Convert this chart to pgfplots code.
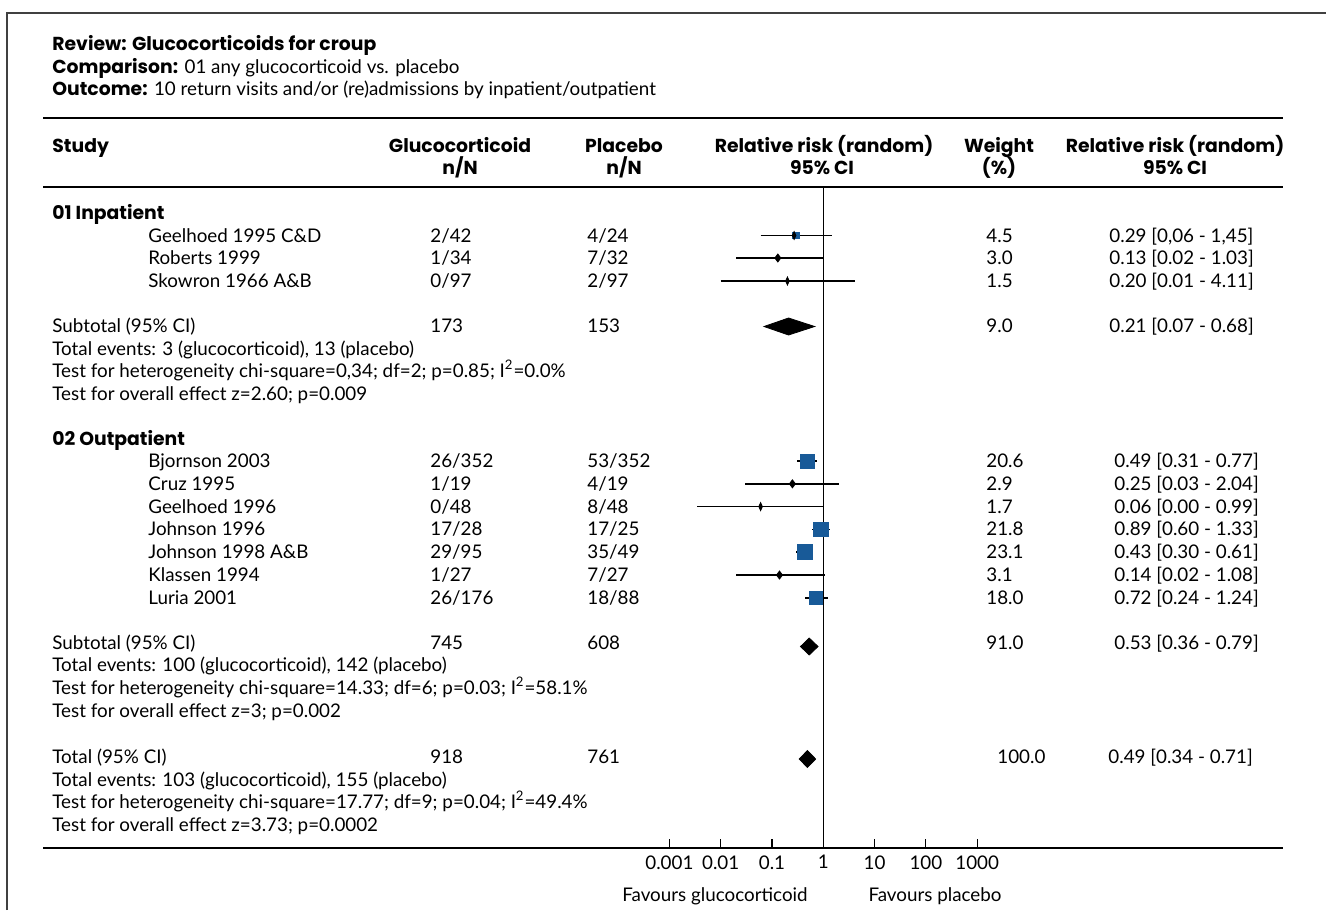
\documentclass[border=0pt]{standalone}
\usepackage{pgfplots}
\pgfplotsset{compat=1.18}
\usepackage{fontspec}
\setmainfont{Lato}[BoldFont={Poppins Bold}, BoldFeatures={Scale=1.0}]
\definecolor{sqblue}{RGB}{24,90,152}
\newcommand\tx[3]{\node[anchor=base west,inner sep=0pt,yshift=-1pt] at (#1,#2) {#3};}
\newcommand\tc[3]{\node[anchor=base,inner sep=0pt,yshift=-1pt] at (#1,#2) {#3};}
\begin{document}
\fontsize{9.4pt}{11pt}\selectfont
\begin{tikzpicture}[x=0.5pt,y=-0.5pt]
\path[use as bounding box] (0,0) rectangle (1326,910);
\draw[line width=0.8pt, black!75] (7,910) -- (7,13) -- (1326,13);
% titles
\tx{52}{48}{\bfseries Review: Glucocorticoids for croup}
\tx{52}{71}{\textbf{Comparison:} 01 any glucocorticoid vs. placebo}
\tx{52}{93.5}{\textbf{Outcome:} 10 return visits and/or (re)admissions by inpatient/outpatient}
% rules
\draw[line width=1.25pt] (43,118) -- (1283,118);
\draw[line width=1.25pt] (43,187) -- (1283,187);
\draw[line width=1.25pt] (43,848) -- (1283,848);
% header
\tx{52}{150}{\bfseries Study}
\tc{460}{150}{\bfseries Glucocorticoid}\tc{460}{172}{\bfseries n/N}
\tc{624}{150}{\bfseries Placebo}\tc{624}{172}{\bfseries n/N}
\tc{824}{150}{\bfseries Relative risk (random)}\tc{822}{172}{\bfseries 95\% CI}
\tc{999}{150}{\bfseries Weight}\tc{999}{172}{\bfseries (\%)}
\tc{1175}{150}{\bfseries Relative risk (random)}\tc{1175}{172}{\bfseries 95\% CI}
% group 1
\tx{52}{217}{\bfseries 01 Inpatient}
\tx{148}{240}{Geelhoed 1995 C\&D}\tx{430}{240}{2/42}\tx{587}{240}{4/24}\tx{986}{240}{4.5}\tx{1109}{240}{0.29 [0,06 - 1,45]}
\tx{148}{262.5}{Roberts 1999}\tx{430}{262.5}{1/34}\tx{587}{262.5}{7/32}\tx{986}{262.5}{3.0}\tx{1109}{262.5}{0.13 [0.02 - 1.03]}
\tx{148}{285.5}{Skowron 1966 A\&B}\tx{430}{285.5}{0/97}\tx{587}{285.5}{2/97}\tx{986}{285.5}{1.5}\tx{1109}{285.5}{0.20 [0.01 - 4.11]}
\tx{52}{330.5}{Subtotal (95\% CI)}\tx{430}{330.5}{173}\tx{587}{330.5}{153}\tx{986}{330.5}{9.0}\tx{1109}{330.5}{0.21 [0.07 - 0.68]}
\tx{52}{353}{Total events: 3 (glucocorticoid), 13 (placebo)}
\tx{52}{375.5}{Test for heterogeneity chi-square=0,34; df=2; p=0.85; I\textsuperscript{2}=0.0\%}
\tx{52}{398}{Test for overall effect z=2.60; p=0.009}
% group 2
\tx{52}{443}{\bfseries 02 Outpatient}
\tx{148}{465.5}{Bjornson 2003}\tx{430}{465.5}{26/352}\tx{587}{465.5}{53/352}\tx{986}{465.5}{20.6}\tx{1114}{465.5}{0.49 [0.31 - 0.77]}
\tx{148}{488.3}{Cruz 1995}\tx{430}{488.3}{1/19}\tx{587}{488.3}{4/19}\tx{986}{488.3}{2.9}\tx{1114}{488.3}{0.25 [0.03 - 2.04]}
\tx{148}{511.1}{Geelhoed 1996}\tx{430}{511.1}{0/48}\tx{587}{511.1}{8/48}\tx{986}{511.1}{1.7}\tx{1114}{511.1}{0.06 [0.00 - 0.99]}
\tx{148}{533.9}{Johnson 1996}\tx{430}{533.9}{17/28}\tx{587}{533.9}{17/25}\tx{986}{533.9}{21.8}\tx{1114}{533.9}{0.89 [0.60 - 1.33]}
\tx{148}{556.7}{Johnson 1998 A\&B}\tx{430}{556.7}{29/95}\tx{587}{556.7}{35/49}\tx{986}{556.7}{23.1}\tx{1114}{556.7}{0.43 [0.30 - 0.61]}
\tx{148}{579.5}{Klassen 1994}\tx{430}{579.5}{1/27}\tx{587}{579.5}{7/27}\tx{986}{579.5}{3.1}\tx{1114}{579.5}{0.14 [0.02 - 1.08]}
\tx{148}{602.3}{Luria 2001}\tx{430}{602.3}{26/176}\tx{587}{602.3}{18/88}\tx{986}{602.3}{18.0}\tx{1114}{602.3}{0.72 [0.24 - 1.24]}
\tx{52}{647}{Subtotal (95\% CI)}\tx{430}{647}{745}\tx{587}{647}{608}\tx{986}{647}{91.0}\tx{1114}{647}{0.53 [0.36 - 0.79]}
\tx{52}{669.8}{Total events: 100 (glucocorticoid), 142 (placebo)}
\tx{52}{692.6}{Test for heterogeneity chi-square=14.33; df=6; p=0.03; I\textsuperscript{2}=58.1\%}
\tx{52}{715.4}{Test for overall effect z=3; p=0.002}
% total
\tx{52}{761}{Total (95\% CI)}\tx{430}{761}{918}\tx{587}{761}{761}\tx{997}{761}{100.0}\tx{1108}{761}{0.49 [0.34 - 0.71]}
\tx{52}{784}{Total events: 103 (glucocorticoid), 155 (placebo)}
\tx{52}{806.5}{Test for heterogeneity chi-square=17.77; df=9; p=0.04; I\textsuperscript{2}=49.4\%}
\tx{52}{829.3}{Test for overall effect z=3.73; p=0.0002}
\tc{715}{899}{Favours glucocorticoid}
\tc{935}{899}{Favours placebo}
\begin{axis}[at={(334.7pt,0pt)}, anchor=north west, scale only axis,
  width=153.9pt, height=424pt,
  xmode=log, log basis x=10, xmin=0.001, xmax=1000, ymin=-848, ymax=0,
  clip=false, axis y line=none, axis x line*=bottom,
  x axis line style={-, line width=1.25pt},
  xtick={0.001,0.01,0.1,1,10,100,1000},
  xticklabels={0.001,0.01,0.1,1,10,100,1000},
  xminorticks=false, minor x tick num=0,
  tick align=inside, major tick length=4.5pt,
  xtick style={line width=0.6pt, black},
  xticklabel style={inner sep=0pt, yshift=-3.5pt},
  /pgf/number format/assume math mode=true]
% reference line
\addplot[black, line width=0.5pt] coordinates {(1,-187) (1,-848)};
% squares (study weights)
\addplot[only marks, mark=square*, mark size=1.6pt, mark options={fill=sqblue, draw=sqblue}] coordinates {(0.29,-235.5)};
\addplot[only marks, mark=square*, mark size=3.5pt, mark options={fill=sqblue, draw=sqblue}] coordinates {(0.49,-461)};
\addplot[only marks, mark=square*, mark size=3.7pt, mark options={fill=sqblue, draw=sqblue}] coordinates {(0.89,-529.4)};
\addplot[only marks, mark=square*, mark size=3.75pt, mark options={fill=sqblue, draw=sqblue}] coordinates {(0.43,-552.2)};
\addplot[only marks, mark=square*, mark size=3.4pt, mark options={fill=sqblue, draw=sqblue}] coordinates {(0.72,-597.8)};
% CI lines
\addplot[black, line width=0.75pt] coordinates {(0.06,-235.5) (1.45,-235.5)};
\addplot[black, line width=0.75pt] coordinates {(0.02,-258) (1.03,-258)};
\addplot[black, line width=0.75pt] coordinates {(0.01,-281) (4.11,-281)};
\addplot[black, line width=0.75pt] coordinates {(0.31,-461) (0.77,-461)};
\addplot[black, line width=0.75pt] coordinates {(0.03,-483.8) (2.04,-483.8)};
\addplot[black, line width=0.75pt] coordinates {(0.0035,-506.6) (0.99,-506.6)};
\addplot[black, line width=0.75pt] coordinates {(0.60,-529.4) (1.33,-529.4)};
\addplot[black, line width=0.75pt] coordinates {(0.30,-552.2) (0.61,-552.2)};
\addplot[black, line width=0.75pt] coordinates {(0.02,-575) (1.08,-575)};
\addplot[black, line width=0.75pt] coordinates {(0.44,-597.8) (1.24,-597.8)};
% small study markers
\addplot[only marks, mark=diamond*, mark size=2pt, mark options={fill=black, draw=black}] coordinates {(0.13,-258) (0.25,-483.8) (0.14,-575)};
\addplot[only marks, mark=diamond*, mark size=2pt, mark options={fill=black, draw=black, xscale=0.6}] coordinates {(0.20,-281) (0.06,-506.6) (0.27,-235.5)};
% pooled diamonds
\addplot[fill=black, draw=black] coordinates {(0.07,-326.5) (0.21,-318) (0.68,-326.5) (0.21,-335)} -- cycle;
\addplot[fill=black, draw=black] coordinates {(0.36,-646.5) (0.53,-638) (0.79,-646.5) (0.53,-655)} -- cycle;
\addplot[fill=black, draw=black] coordinates {(0.34,-759) (0.49,-750.5) (0.71,-759) (0.49,-767.5)} -- cycle;
\end{axis}
\end{tikzpicture}
\end{document}
